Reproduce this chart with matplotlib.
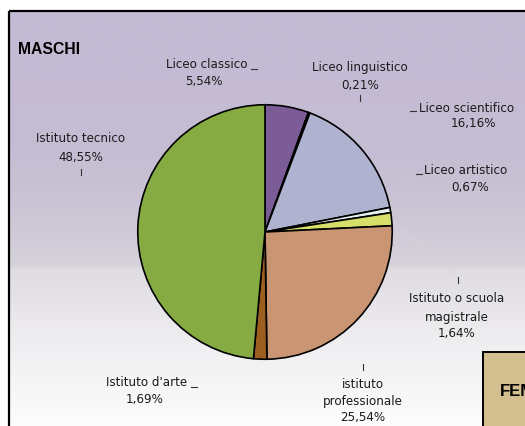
import numpy as np
import matplotlib
matplotlib.use("Agg")
import matplotlib.pyplot as plt
from matplotlib.patches import Rectangle

plt.rcParams['font.family'] = ['Liberation Sans', 'DejaVu Sans']

# ---- data ----
categories = ["Liceo classico", "Liceo linguistico", "Liceo scientifico", "Liceo artistico",
              "Istituto o scuola magistrale", "istituto professionale", "Istituto d'arte",
              "Istituto tecnico"]
values = [5.54, 0.21, 16.16, 0.67, 1.64, 25.54, 1.69, 48.55]
colors = ["#7B5C97", "#18181C", "#AFB3D0", "#E3F0EF", "#D5DF6A", "#C99572", "#9C5F1F", "#86AB42"]
title_left = "MASCHI"
title_right = "FEMMINE"

W, H = 525, 426
fig = plt.figure(figsize=(W / 100, H / 100), dpi=100)

# background axes in pixel coordinates
bg = fig.add_axes([0, 0, 1, 1])
bg.set_xlim(0, W)
bg.set_ylim(H, 0)
bg.axis("off")

stops_y = [10, 150, 205, 265, 270, 330, 426]
stops_c = [(195, 186, 211), (197, 189, 211), (202, 196, 213), (214, 210, 218),
           (223, 220, 226), (237, 235, 238), (253, 253, 253)]
ys = np.arange(10, H + 1)
grad = np.zeros((len(ys), 1, 3))
for k in range(3):
    grad[:, 0, k] = np.interp(ys, stops_y, [c[k] for c in stops_c]) / 255.0
bg.imshow(grad, extent=(8.5, W + 2, H, 10.5), aspect="auto", interpolation="bilinear", zorder=0)
bg.add_patch(Rectangle((8.5, 10.5), W, H, fill=False, edgecolor="black", lw=1.6, zorder=2))

# right box (partially visible, as in the reference)
bg.add_patch(Rectangle((483, 352), 60, 100, facecolor="#D2BE8F", edgecolor="black", lw=1.4, zorder=3))
bg.text(500, 396, title_right, fontsize=12, fontweight="bold", ha="left", va="baseline", zorder=4,
        clip_on=False)

bg.text(18, 54, title_left, fontsize=11.3, fontweight="bold", ha="left", va="baseline", zorder=4)

# pie
cx, cy, r = 265, 232, 128.5
pie_ax = fig.add_axes([(cx - r) / W, (H - cy - r) / H, 2 * r / W, 2 * r / H])
pie_ax.pie(values, colors=colors, startangle=90, counterclock=False,
           wedgeprops=dict(edgecolor="black", linewidth=1.2))
pie_ax.set_xlim(-1.01, 1.01)
pie_ax.set_ylim(-1.01, 1.01)
pie_ax.axis("off")

def pct(v):
    return f"{v:.2f}".replace(".", ",") + "%"

fs = 8.6
tc = "#1a1a1a"
lab_font = ['DejaVu Sans']

def line(x, y, s):
    bg.text(x, y + 4.5, s, fontsize=fs, family=lab_font, ha="center", va="baseline",
            color=tc, zorder=4)

def tick(x, y):
    bg.plot([x, x], [y - 3, y + 3], color="#333333", lw=0.8, zorder=4)

def flat(x, y):
    bg.plot([x - 3, x + 3], [y, y], color="#333333", lw=0.8, zorder=4)

# faint leader lines
bg.plot([393, 414], [198, 176], color="#D0CCD8", lw=0.5, zorder=1)
bg.plot([394, 455], [222, 274], color="#D8D5DC", lw=0.5, zorder=1)

# Liceo classico
line(207, 64, categories[0]); flat(254, 68.5); line(204, 81, pct(values[0]))
# Liceo linguistico
line(360, 67, categories[1]); line(360, 84, pct(values[1])); tick(360, 98)
# Liceo scientifico
flat(413, 111); line(467, 107, categories[2]); line(473, 122, pct(values[2]))
# Liceo artistico
flat(419, 174); line(466, 170, categories[3]); line(470, 187, pct(values[3]))
# magistrale
tick(458, 280); line(457, 298, "Istituto o scuola"); line(457, 316, "magistrale"); line(457, 333, pct(values[4]))
# professionale
tick(363, 367); line(363, 384, "istituto"); line(363, 400, "professionale"); line(363, 417, pct(values[5]))
# d'arte
line(147, 382, categories[6]); flat(194, 386.5); line(145, 398, pct(values[6]))
# tecnico
line(81, 138, categories[7]); line(81, 156, pct(values[7])); tick(81, 172)

fig.savefig("out.png", dpi=100)
